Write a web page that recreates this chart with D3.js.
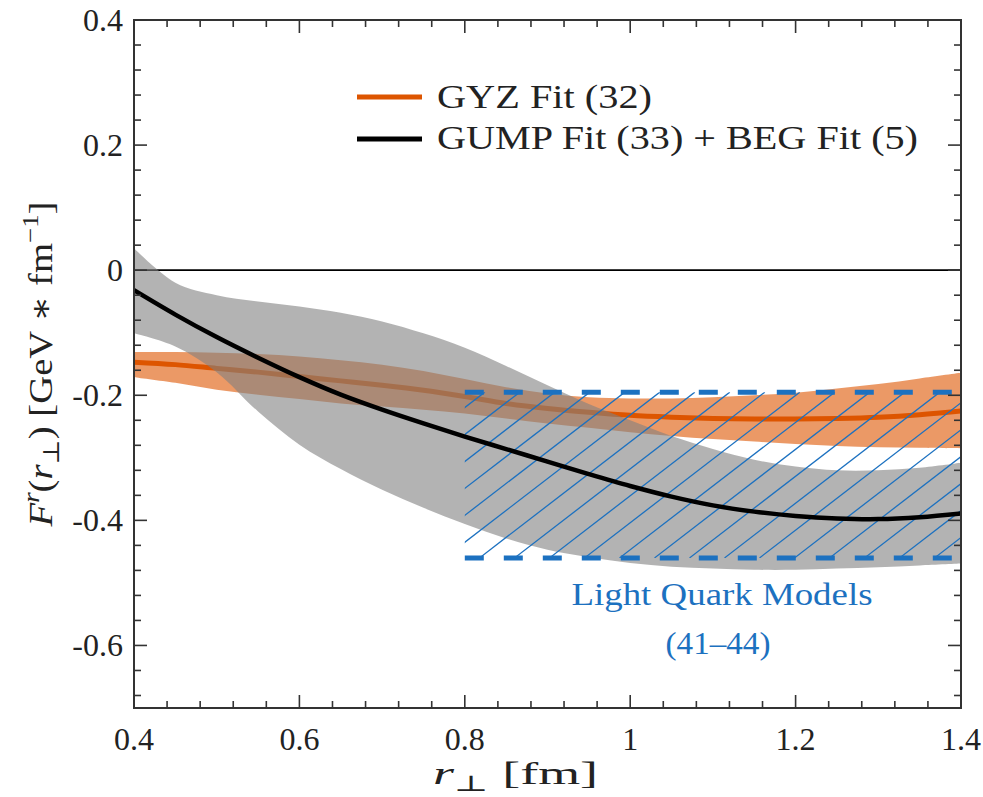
<!DOCTYPE html>
<html><head><meta charset="utf-8">
<script src="https://cdn.jsdelivr.net/npm/d3@7"></script>
<style>
body{margin:0;background:#fff;}
</style></head>
<body><svg id="c" width="983" height="797" font-family="'Liberation Serif', 'Times New Roman', Tinos, 'DejaVu Serif', serif"></svg>
<script>
// ---- data ----
const rPerp = [0.40,0.45,0.50,0.55,0.60,0.65,0.70,0.75,0.80,0.85,0.90,0.95,1.00,1.05,1.10,1.15,1.20,1.25,1.30,1.35,1.40];
const gyzCentral = [-0.147,-0.151,-0.157,-0.163,-0.170,-0.177,-0.184,-0.192,-0.202,-0.213,-0.221,-0.227,-0.232,-0.235,-0.237,-0.238,-0.238,-0.237,-0.235,-0.231,-0.225];
const gyzUpper   = [-0.131,-0.131,-0.132,-0.134,-0.138,-0.144,-0.151,-0.161,-0.174,-0.187,-0.197,-0.203,-0.205,-0.205,-0.203,-0.200,-0.196,-0.189,-0.182,-0.173,-0.164];
const gyzLower   = [-0.171,-0.180,-0.191,-0.199,-0.206,-0.213,-0.218,-0.223,-0.229,-0.237,-0.245,-0.252,-0.259,-0.265,-0.270,-0.274,-0.278,-0.281,-0.283,-0.284,-0.285];
const gumpCentral= [-0.032,-0.071,-0.107,-0.140,-0.171,-0.199,-0.223,-0.245,-0.266,-0.286,-0.306,-0.326,-0.345,-0.362,-0.376,-0.386,-0.393,-0.397,-0.398,-0.395,-0.389];
const gumpUpper  = [0.035,-0.020,-0.040,-0.050,-0.058,-0.068,-0.082,-0.101,-0.124,-0.153,-0.184,-0.214,-0.240,-0.265,-0.286,-0.303,-0.314,-0.320,-0.320,-0.316,-0.308];
const gumpLower  = [-0.101,-0.122,-0.163,-0.226,-0.279,-0.318,-0.351,-0.380,-0.406,-0.429,-0.447,-0.459,-0.468,-0.474,-0.477,-0.479,-0.479,-0.477,-0.475,-0.472,-0.469];
const lightQuarkX = [0.8, 1.4];
const lightQuarkY = [-0.195, -0.46];
const xTicks = [0.4,0.6,0.8,1.0,1.2,1.4];
const xTickLabels = ["0.4","0.6","0.8","1","1.2","1.4"];
const yTicks = [0.4,0.2,0,-0.2,-0.4,-0.6];
const yTickLabels = ["0.4","0.2","0","-0.2","-0.4","-0.6"];
const legendLabels = ["GYZ Fit (32)","GUMP Fit (33) + BEG Fit (5)"];

// ---- layout ----
const L=134, R=961, T=20, B=708;
const x = d3.scaleLinear().domain([0.4,1.4]).range([L,R]);
const y = d3.scaleLinear().domain([-0.7,0.4]).range([B,T]);
const svg = d3.select("#c");
const orange="#dd5500", blue="#1c71c0";

svg.append("defs").append("clipPath").attr("id","plot")
  .append("rect").attr("x",L).attr("y",T).attr("width",R-L).attr("height",B-T);
const g = svg.append("g").attr("clip-path","url(#plot)");

const curve = d3.curveCatmullRom.alpha(0.5);
const area = (lo,hi)=>d3.area().x((d,i)=>x(rPerp[i])).y0((d,i)=>y(lo[i])).y1((d,i)=>y(hi[i])).curve(curve);
const line = (v)=>d3.line().x((d,i)=>x(rPerp[i])).y((d,i)=>y(v[i])).curve(curve);

// orange band + line
g.append("path").datum(rPerp).attr("d",area(gyzLower,gyzUpper)).attr("fill",orange).attr("fill-opacity",0.6);
g.append("path").datum(rPerp).attr("d",line(gyzCentral)).attr("fill","none").attr("stroke",orange).attr("stroke-width",5);
// zero line
g.append("line").attr("x1",L).attr("x2",R).attr("y1",y(0)).attr("y2",y(0)).attr("stroke","#000").attr("stroke-width",1.8);
// gray band
g.append("path").datum(rPerp).attr("d",area(gumpLower,gumpUpper)).attr("fill","#808080").attr("fill-opacity",0.6);

// hatch region
const hx0=x(lightQuarkX[0]), hx1=x(lightQuarkX[1]), hy0=y(lightQuarkY[0]), hy1=y(lightQuarkY[1]);
svg.select("defs").append("clipPath").attr("id","hatch")
  .append("rect").attr("x",hx0).attr("y",hy0).attr("width",hx1-hx0).attr("height",hy1-hy0);
const hg = g.append("g").attr("clip-path","url(#hatch)");
const slope = 0.77, period = 35, span = (hy1-hy0)/slope;
for(let xt = hx0 + 20 - 10*period; xt < hx1 + span + period; xt += period){
  hg.append("line").attr("x1",xt).attr("y1",hy0).attr("x2",xt-span).attr("y2",hy1)
    .attr("stroke",blue).attr("stroke-width",1.3);
}
// black line
g.append("path").datum(rPerp).attr("d",line(gumpCentral)).attr("fill","none").attr("stroke","#000").attr("stroke-width",4.5);
// dashed bounds
[hy0,hy1].forEach(yy=>{
  g.append("line").attr("x1",hx0).attr("x2",hx1).attr("y1",yy).attr("y2",yy)
   .attr("stroke",blue).attr("stroke-width",5).attr("stroke-dasharray","19,20");
});

// ---- axes / frame ----
const ax = svg.append("g").attr("stroke","#333");
ax.append("rect").attr("x",L).attr("y",T).attr("width",R-L).attr("height",B-T).attr("fill","none").attr("stroke-width",2);
const xMinor = d3.range(0.4,1.4001,0.04), yMinor = d3.range(-0.68,0.4001,0.04);
function isMajor(v){return Math.abs(v/0.2 - Math.round(v/0.2))<1e-6;}
xMinor.forEach(v=>{
  const len = isMajor(v)?13:7, px=x(v);
  ax.append("line").attr("x1",px).attr("x2",px).attr("y1",B).attr("y2",B-len).attr("stroke-width",1.6);
  ax.append("line").attr("x1",px).attr("x2",px).attr("y1",T).attr("y2",T+len).attr("stroke-width",1.6);
});
yMinor.forEach(v=>{
  const len = isMajor(v)?13:7, py=y(v);
  ax.append("line").attr("x1",L).attr("x2",L+len).attr("y1",py).attr("y2",py).attr("stroke-width",1.6);
  ax.append("line").attr("x1",R).attr("x2",R-len).attr("y1",py).attr("y2",py).attr("stroke-width",1.6);
});
const lab = svg.append("g").attr("fill","#222").attr("font-size",32);
xTicks.forEach((v,i)=>lab.append("text").attr("x",x(v)).attr("y",750).attr("text-anchor","middle").text(xTickLabels[i]));
yTicks.forEach((v,i)=>lab.append("text").attr("x",123).attr("y",y(v)+11).attr("text-anchor","end").text(yTickLabels[i]));

// x title
const xt = lab.append("text").attr("x",433).attr("y",784).attr("font-size",32)
  .attr("textLength",165).attr("lengthAdjust","spacingAndGlyphs");
xt.append("tspan").attr("font-style","italic").text("r");
xt.append("tspan").attr("font-size",22).attr("dy",7).text("⊥");
xt.append("tspan").attr("dy",-7).text("  [fm]");

// y title
const yt = lab.append("text").attr("transform","translate(52,"+((T+B)/2)+") rotate(-90)").attr("text-anchor","middle").attr("font-size",33)
  .attr("textLength",325).attr("lengthAdjust","spacingAndGlyphs");
yt.append("tspan").attr("font-style","italic").text("F");
yt.append("tspan").attr("font-style","italic").attr("font-size",23).attr("dy",-13).text("r");
yt.append("tspan").attr("dy",13).text("(");
yt.append("tspan").attr("font-style","italic").text("r");
yt.append("tspan").attr("font-size",23).attr("dy",7).text("⊥");
yt.append("tspan").attr("dy",-7).text(")  [GeV ∗ fm");
yt.append("tspan").attr("font-size",23).attr("dy",-14).text("−1");
yt.append("tspan").attr("dy",14).text("]");

// legend
const lg = svg.append("g");
[[orange,97],["#000",139]].forEach(c=>{
  lg.append("line").attr("x1",357).attr("x2",422).attr("y1",c[1]).attr("y2",c[1]).attr("stroke",c[0]).attr("stroke-width",5);
});
lg.append("text").attr("x",437).attr("y",108).attr("font-size",33).attr("fill","#222").attr("textLength",215).attr("lengthAdjust","spacingAndGlyphs").text(legendLabels[0]);
lg.append("text").attr("x",437).attr("y",149).attr("font-size",33).attr("fill","#222").attr("textLength",481).attr("lengthAdjust","spacingAndGlyphs").text(legendLabels[1]);

// annotation
svg.append("text").attr("x",722).attr("y",605).attr("text-anchor","middle").attr("font-size",32).attr("fill",blue)
  .attr("textLength",301).attr("lengthAdjust","spacingAndGlyphs").text("Light Quark Models");
svg.append("text").attr("x",718).attr("y",654).attr("text-anchor","middle").attr("font-size",32).attr("fill",blue)
  .attr("textLength",105).attr("lengthAdjust","spacingAndGlyphs").text("(41–44)");
</script></body></html>
